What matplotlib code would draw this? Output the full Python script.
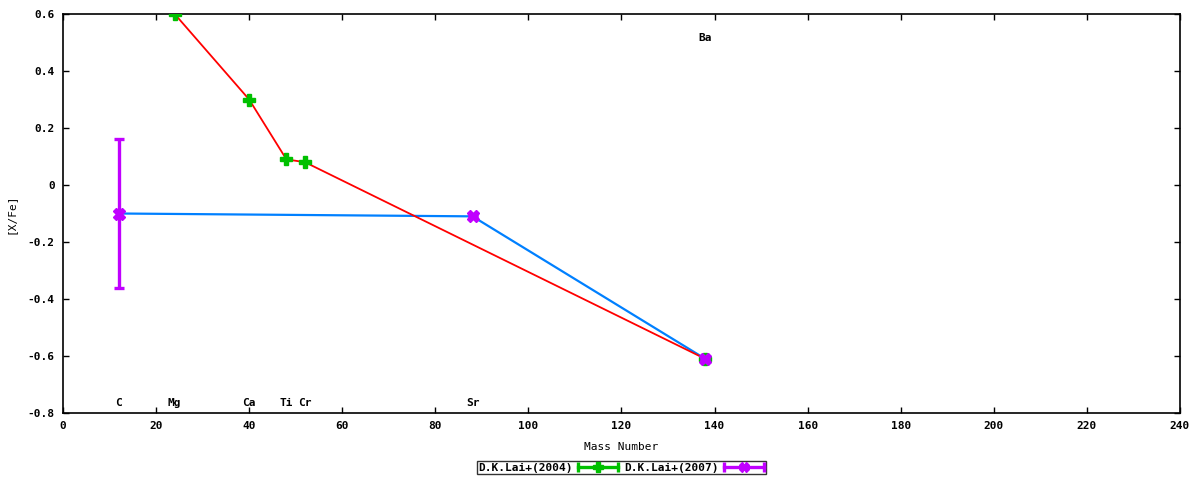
#!/usr/bin/env python3
"""[X/Fe] against mass number, Lai et al. 2004 / 2007."""

import matplotlib
matplotlib.use("Agg")
import matplotlib.pyplot as plt
from matplotlib.legend_handler import HandlerBase
from matplotlib.lines import Line2D
from matplotlib.ticker import FuncFormatter, MultipleLocator

# D.K.Lai+(2004)
mass_2004 = [24, 40, 48, 52, 138]
xfe_2004 = [0.60, 0.30, 0.09, 0.08, -0.61]

# D.K.Lai+(2007)
mass_2007 = [12, 88, 138]
xfe_2007 = [-0.10, -0.11, -0.61]
err_2007 = [0.26, 0.0, 0.0]

# element labels
label_names = ["C", "Mg", "Ca", "Ti", "Cr", "Sr", "Ba"]
label_x = [12, 24, 40, 48, 52, 88, 138]
label_y = [-0.765, -0.765, -0.765, -0.765, -0.765, -0.765, 0.515]

GREEN = "#00c000"
PURPLE = "#c000ff"
RED = "#ff0000"
BLUE = "#0080ff"

plt.rcParams["font.family"] = ["DejaVu Sans Mono"]
plt.rcParams["font.weight"] = "bold"
plt.rcParams["font.size"] = 8


class GnuplotErrHandler(HandlerBase):
    """Legend sample like gnuplot: horizontal bar with caps and marker."""

    def create_artists(self, legend, orig_handle, xdescent, ydescent,
                       width, height, fontsize, trans):
        c = orig_handle.get_color()
        y = height / 2 - ydescent
        x0, x1 = -xdescent, width - xdescent
        bar = Line2D([x0, x1], [y, y], color=c, lw=2.4, transform=trans)
        caps = Line2D([x0, x1], [y, y], ls="", marker="|", ms=7, mew=2.4,
                      color=c, transform=trans)
        mid = Line2D([(x0 + x1) / 2], [y], ls="", marker=orig_handle.get_marker(),
                     ms=7, color=c, mec=c, transform=trans)
        return [bar, caps, mid]


fig = plt.figure(figsize=(12, 4.8), dpi=100)
ax = fig.add_axes([0.0525, 0.1396, 0.9308, 0.8312])

ax.plot(mass_2007, xfe_2007, color=BLUE, lw=1.6, zorder=2)
ax.plot(mass_2004, xfe_2004, color=RED, lw=1.3, zorder=3)

ax.plot(mass_2004, xfe_2004, ls="", marker="P", ms=8, color=GREEN, mec=GREEN, zorder=4)
ax.errorbar(mass_2007, xfe_2007, yerr=err_2007, fmt="X", ms=8, color=PURPLE,
            mec=PURPLE, ecolor=PURPLE, elinewidth=2.4, capsize=3.5, capthick=2.4,
            zorder=5)

for name, x, y in zip(label_names, label_x, label_y):
    ax.text(x, y, name, ha="center", va="center")

ax.set_xlim(0, 240)
ax.set_ylim(-0.8, 0.6)
ax.xaxis.set_major_locator(MultipleLocator(20))
ax.yaxis.set_major_locator(MultipleLocator(0.2))
ax.yaxis.set_major_formatter(FuncFormatter(lambda v, p: "%g" % round(v, 3)))
ax.tick_params(direction="in", length=4, width=1, top=True, right=True, pad=6)
for s in ax.spines.values():
    s.set_linewidth(1.2)

ax.set_xlabel("Mass Number", labelpad=8)
ax.set_ylabel("[X/Fe]", labelpad=9)

h2004 = Line2D([], [], color=GREEN, marker="P")
h2007 = Line2D([], [], color=PURPLE, marker="X")
leg = fig.legend([h2004, h2007], ["D.K.Lai+(2004)", "D.K.Lai+(2007)"],
                 handler_map={Line2D: GnuplotErrHandler()},
                 loc="center", bbox_to_anchor=(0.5175, 0.026), ncol=2,
                 markerfirst=False, frameon=True, fancybox=False,
                 edgecolor="black", handlelength=3.6, handletextpad=0.5,
                 columnspacing=0.5, borderpad=0.15, borderaxespad=0)
leg.get_frame().set_linewidth(1.0)

fig.savefig("out.png", dpi=100)
